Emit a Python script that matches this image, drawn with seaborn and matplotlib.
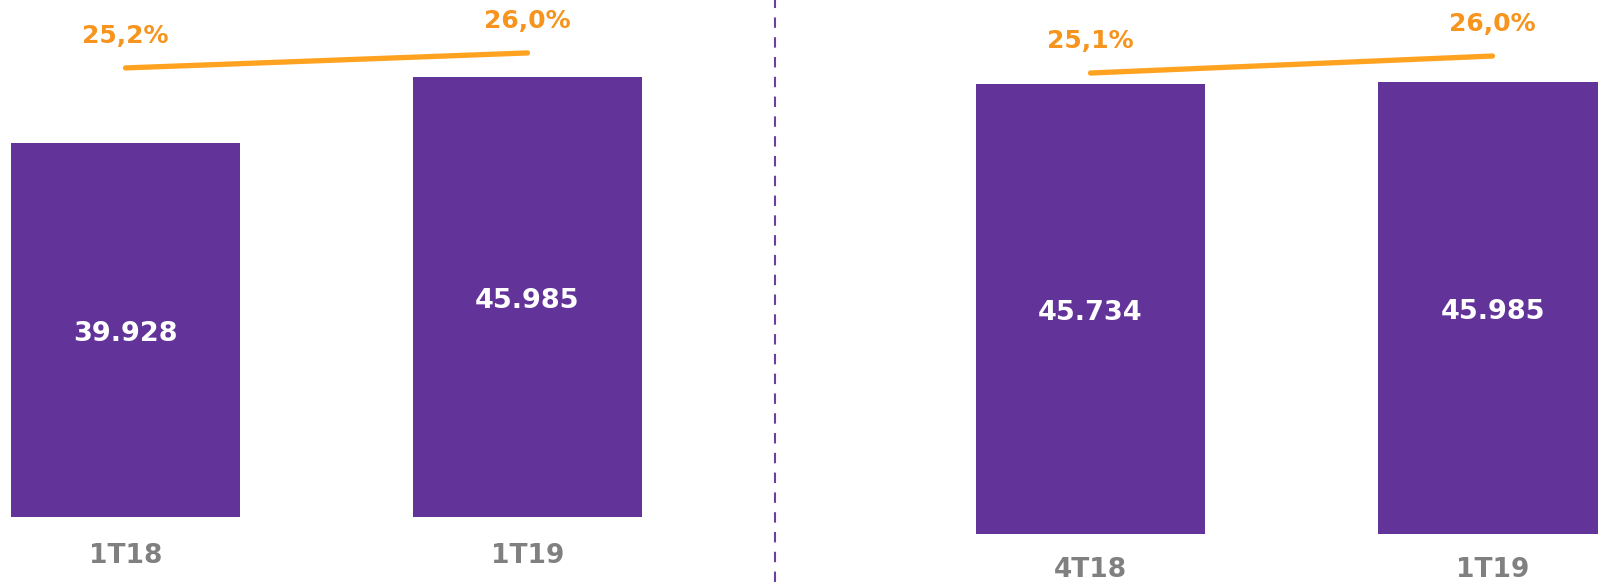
import numpy as np
import pandas as pd
import matplotlib
matplotlib.use("Agg")
import matplotlib.pyplot as plt
from matplotlib.lines import Line2D
import seaborn as sns

sns.set_theme(style="white")
plt.rcParams['font.family'] = ['DejaVu Sans']

# ---- data ----
left_cats = ["1T18", "1T19"]
left_values = [39.928, 45.985]
left_labels = ["39.928", "45.985"]
left_pct = [25.2, 26.0]
left_pct_labels = ["25,2%", "26,0%"]

right_cats = ["4T18", "1T19"]
right_values = [45.734, 45.985]
right_labels = ["45.734", "45.985"]
right_pct = [25.1, 26.0]
right_pct_labels = ["25,1%", "26,0%"]

PURPLE = "#62349A"
ORANGE_LINE = "#FFA21F"
ORANGE_TXT = "#F7941D"
GRAY = "#808080"

W, H = 1598, 582
fig = plt.figure(figsize=(W / 100, H / 100), dpi=100)
fig.patch.set_facecolor("white")


def px_axes(x0, x1, ybottom_px):
    return fig.add_axes([x0 / W, (H - ybottom_px) / H, (x1 - x0) / W, ybottom_px / H])


def panel(ax, cats, values, labels, pct, pct_labels, xlim, ylim, ylim2, label_off_px):
    df = pd.DataFrame({"cat": cats, "val": values})
    sns.barplot(data=df, x="cat", y="val", ax=ax, color=PURPLE, saturation=1,
                width=0.57, linewidth=0)
    ax.set_xlim(*xlim)
    ax.set_ylim(*ylim)
    ax.axis("off")
    pos = np.arange(len(cats))
    for i, (v, lab) in enumerate(zip(values, labels)):
        ax.annotate(lab, xy=(i, (ylim[0] + v) / 2), xytext=(0, -3),
                    textcoords="offset points", ha="center", va="center",
                    color="white", fontsize=19.5, fontweight="bold")
    for i, c in enumerate(cats):
        ax.annotate(c, xy=(i, 0), xycoords=ax.get_xaxis_transform(),
                    xytext=(0, -label_off_px * 0.72), textcoords="offset points",
                    ha="center", va="center", color=GRAY, fontsize=19,
                    fontweight="bold", annotation_clip=False)
    ax2 = ax.twinx()
    sns.lineplot(x=pos, y=pct, ax=ax2, color=ORANGE_LINE, linewidth=3.8,
                 solid_capstyle="round")
    ax2.set_ylim(*ylim2)
    ax2.set_xlim(*xlim)
    ax2.axis("off")
    for i, (p, lab) in enumerate(zip(pct, pct_labels)):
        ax2.annotate(lab, xy=(i, p), xytext=(0, 23), textcoords="offset points",
                     ha="center", va="center", color=ORANGE_TXT, fontsize=18,
                     fontweight="bold", annotation_clip=False)


# left panel
axL = px_axes(0, 774, 517)
panel(axL, left_cats, left_values, left_labels, left_pct, left_pct_labels,
      xlim=(-125.5 / 402, (774 - 125.5) / 402),
      ylim=(5.6, 5.6 + 517 / 10.9),
      ylim2=(1.25, 1.25 + 517 / 18.75),
      label_off_px=39)

# right panel
axR = px_axes(774, 1598, 534)
panel(axR, right_cats, right_values, right_labels, right_pct, right_pct_labels,
      xlim=(-(1090.5 - 774) / 402, (1598 - 1090.5) / 402),
      ylim=(0, 534 / 9.83),
      ylim2=(0.71, 0.71 + 534 / 18.9),
      label_off_px=36)

# dashed divider
fig.add_artist(Line2D([774.5 / W, 774.5 / W], [0, 1], transform=fig.transFigure,
                      color="#6A3FA0", linewidth=1.5, dashes=(5, 4.5)))

fig.savefig("out.png", dpi=100, facecolor="white")
